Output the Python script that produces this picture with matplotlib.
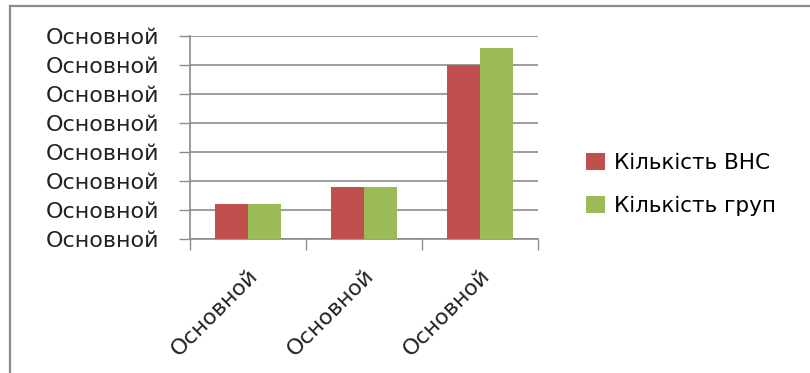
import matplotlib.pyplot as plt
import numpy as np
from matplotlib.lines import Line2D

# Дані
categories = ['Основной', 'Основной', 'Основной']
vnz_count = [1.2, 1.8, 6.0]
group_count = [1.2, 1.8, 6.6]
y_ticks = [0, 1, 2, 3, 4, 5, 6, 7]
y_labels = ['Основной'] * len(y_ticks)
series_names = ['Кількість ВНС', 'Кількість груп']
colors = ['#C0504D', '#9BBB59']

plt.rcParams['font.family'] = ['DejaVu Sans']

fig = plt.figure(figsize=(8.1, 3.73), dpi=100)
ax = fig.add_axes([0.2346, 0.3584, 0.4296, 0.5451])

x = np.arange(len(categories))
w = 0.285
ax.bar(x - w / 2, vnz_count, w, color=colors[0], label=series_names[0], zorder=3)
ax.bar(x + w / 2, group_count, w, color=colors[1], label=series_names[1], zorder=3)

ax.set_xlim(-0.5, len(categories) - 0.5)
ax.set_ylim(0, 7)

# Сітка і осі
ax.set_yticks(y_ticks)
ax.set_yticklabels(y_labels, fontsize=16, color='#222222')
ax.yaxis.grid(True, color='#8c8c8c', linewidth=1.2, zorder=0)
ax.tick_params(axis='y', length=8, width=1, color='#8c8c8c', pad=14)

ax.set_xticks(x)
ax.set_xticklabels(categories, rotation=45, ha='right', va='top',
                   rotation_mode='anchor', fontsize=16, color='#222222')
ax.tick_params(axis='x', which='major', length=0, pad=19)
ax.set_xticks(np.arange(-0.5, len(categories) - 0.4, 1), minor=True)
ax.tick_params(axis='x', which='minor', length=8, width=1, color='#8c8c8c')

for side in ['top', 'right']:
    ax.spines[side].set_visible(False)
for side in ['left', 'bottom']:
    ax.spines[side].set_color('#8c8c8c')
    ax.spines[side].set_linewidth(1.2)

fig.legend(loc='center left', bbox_to_anchor=(0.7, 0.505), frameon=False,
           fontsize=15.5, handlelength=0.85, handleheight=0.85,
           handletextpad=0.45, labelspacing=1.05)

# Рамка навколо діаграми
fig.add_artist(Line2D([0.0125, 0.0125], [0, 0.983], color='#8c8c8c', linewidth=1.6))
fig.add_artist(Line2D([0.0125, 1], [0.983, 0.983], color='#8c8c8c', linewidth=1.6))

fig.savefig('out.png', dpi=100)
